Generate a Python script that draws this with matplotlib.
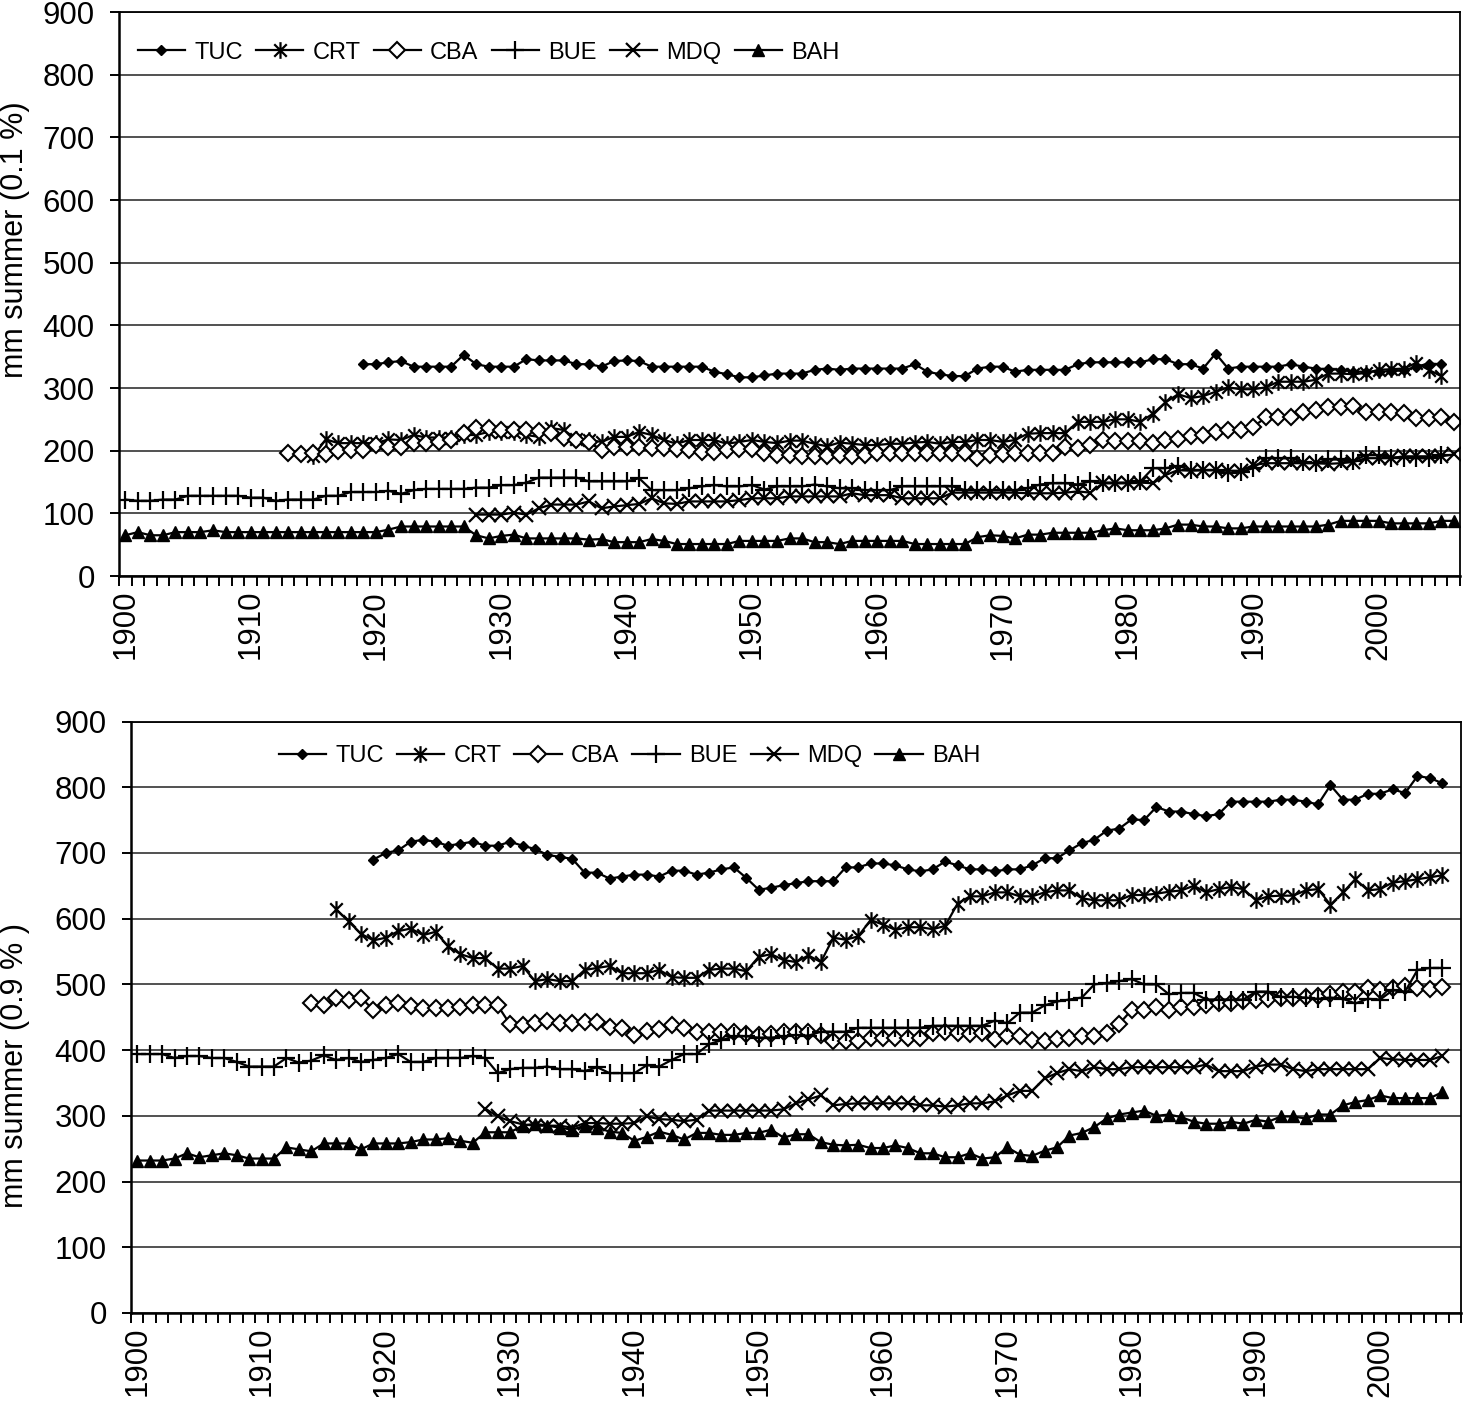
import numpy as np
import matplotlib
matplotlib.use("Agg")
import matplotlib.pyplot as plt
from matplotlib.path import Path

plt.rcParams['font.family'] = ['Liberation Sans', 'DejaVu Sans']

years = np.arange(1900, 2007)
names = ['TUC', 'CRT', 'CBA', 'BUE', 'MDQ', 'BAH']

# ---- top panel: mm summer (0.1 %) -- (first year, yearly values)
tuc_01 = (1919, [338, 338,
                 341, 343, 334, 334, 334, 334, 353, 338, 334, 334,
                 334, 346, 344, 344, 344, 338, 338, 334, 343, 344,
                 343, 334, 334, 334, 334, 334, 326, 322, 317, 317,
                 320, 323, 323, 323, 329, 331, 329, 331, 331, 331,
                 331, 331, 338, 326, 322, 319, 319, 331, 334, 334,
                 326, 329, 329, 329, 329, 338, 341, 341, 341, 341,
                 341, 346, 346, 338, 338, 331, 355, 331, 334, 334,
                 334, 334, 338, 334, 331, 330, 329, 326, 326, 326,
                 327, 328, 334, 339, 338])
crt_01 = (1915, [191,
                 218, 212, 212, 212, 212,
                 218, 217, 225, 221, 221, 221, 225, 225, 230, 230,
                 230, 225, 222, 236, 233, 218, 217, 214, 222, 222,
                 230, 225, 217, 211, 217, 217, 217, 211, 214, 217,
                 214, 212, 216, 216, 211, 207, 213, 211, 209, 209,
                 211, 211, 213, 214, 211, 214, 214, 217, 217, 214,
                 217, 227, 228, 228, 228, 246, 246, 246, 250, 250,
                 246, 259, 277, 290, 284, 287, 294, 301, 298, 298,
                 301, 310, 310, 310, 313, 323, 323, 322, 324, 329,
                 330, 331, 340, 329, 319])
cba_01 = (1913, [197, 195, 197, 195, 199, 201, 201, 209,
                 206, 206, 212, 213, 214, 217, 228, 236, 236, 233,
                 233, 233, 231, 228, 220, 217, 214, 201, 206, 206,
                 206, 205, 204, 203, 201, 198, 198, 201, 202, 203,
                 196, 193, 193, 191, 191, 191, 193, 191, 193, 196,
                 196, 196, 196, 196, 196, 196, 196, 189, 193, 195,
                 196, 196, 196, 197, 206, 204, 209, 217, 216, 216,
                 216, 212, 217, 218, 223, 225, 229, 233, 233, 238,
                 253, 253, 253, 261, 265, 269, 270, 272, 261, 261,
                 261, 260, 252, 252, 253, 246])
bue_01 = (1900, [122, 120, 120, 122, 122, 128, 128, 128, 128, 128, 125,
                 125, 120, 122, 122, 122, 128, 128, 134, 134, 134,
                 136, 131, 137, 139, 139, 139, 139, 141, 141, 145,
                 145, 149, 157, 157, 157, 157, 151, 151, 151, 151,
                 156, 137, 137, 137, 140, 143, 145, 143, 143, 145,
                 138, 143, 143, 143, 146, 143, 140, 140, 137, 137,
                 137, 143, 143, 143, 143, 143, 137, 137, 137, 137,
                 137, 140, 146, 148, 148, 146, 151, 149, 149, 149,
                 151, 172, 172, 176, 169, 169, 169, 164, 166, 172,
                 188, 188, 188, 182, 180, 186, 186, 184, 193, 193,
                 189, 189, 188, 188, 193])
mdq_01 = (1928, [98, 98, 98,
                 101, 98, 108, 114, 114, 114, 119, 108, 111, 113,
                 115, 124, 116, 115, 119, 119, 119, 119, 121, 124,
                 124, 124, 127, 127, 127, 127, 127, 132, 129, 129,
                 129, 124, 124, 124, 124, 133, 133, 133, 133, 133,
                 133, 132, 132, 132, 133, 135, 133, 148, 148, 148,
                 149, 148, 161, 169, 168, 169, 169, 168, 168, 177,
                 180, 180, 180, 180, 180, 179, 180, 182, 188, 188,
                 188, 191, 191, 191, 191, 194])
bah_01 = (1900, [65, 70, 65, 65, 70, 70, 70, 73, 70, 70, 70,
                 70, 70, 70, 70, 70, 70, 70, 70, 70, 70,
                 74, 79, 79, 79, 79, 79, 79, 65, 60, 64,
                 66, 60, 60, 60, 60, 60, 58, 59, 54, 54,
                 54, 59, 56, 51, 51, 51, 51, 51, 56, 56,
                 56, 56, 60, 60, 54, 54, 51, 56, 56, 56,
                 56, 56, 51, 51, 51, 51, 51, 62, 65, 64,
                 60, 66, 66, 69, 69, 69, 69, 73, 76, 73,
                 73, 73, 76, 82, 82, 79, 79, 76, 76, 79,
                 79, 79, 79, 79, 79, 82, 88, 88, 88, 88,
                 84, 84, 84, 84, 88, 88])

# ---- bottom panel: mm summer (0.9 %)
tuc_09 = (1919, [690, 700,
                 704, 717, 720, 717, 711, 714, 717, 711, 711, 717,
                 711, 706, 697, 694, 691, 670, 670, 661, 664, 667,
                 667, 664, 673, 673, 667, 670, 675, 678, 662, 644,
                 647, 651, 654, 657, 657, 657, 678, 678, 684, 684,
                 681, 675, 672, 675, 687, 681, 675, 675, 672, 675,
                 675, 681, 692, 692, 704, 715, 720, 734, 737, 751,
                 750, 770, 763, 763, 759, 756, 759, 778, 778, 778,
                 778, 781, 781, 778, 774, 803, 781, 781, 790, 790,
                 797, 791, 817, 814, 806])
crt_09 = (1916, [614, 596, 577, 567, 571,
                 581, 585, 575, 580, 558, 546, 540, 540, 524, 524,
                 528, 505, 508, 505, 505, 522, 525, 528, 517, 517,
                 517, 522, 511, 510, 510, 522, 524, 524, 520, 542,
                 546, 537, 534, 544, 534, 571, 568, 573, 598, 591,
                 583, 587, 587, 584, 589, 623, 634, 634, 640, 640,
                 634, 634, 640, 643, 643, 631, 628, 628, 628, 636,
                 636, 638, 641, 643, 650, 640, 645, 648, 645, 628,
                 634, 635, 635, 643, 645, 621, 640, 660, 643, 645,
                 655, 657, 660, 663, 666])
cba_09 = (1914, [471, 468, 480, 477, 480, 461, 469,
                 471, 467, 464, 464, 464, 465, 468, 468, 468, 439,
                 438, 442, 444, 442, 441, 443, 443, 435, 434, 423,
                 429, 432, 438, 434, 427, 428, 428, 427, 424, 423,
                 424, 428, 428, 428, 423, 414, 414, 414, 419, 419,
                 419, 419, 419, 426, 428, 426, 425, 426, 417, 422,
                 422, 415, 414, 417, 419, 422, 422, 426, 440, 461,
                 461, 465, 461, 465, 465, 468, 471, 471, 474, 477,
                 478, 480, 480, 481, 482, 485, 488, 489, 494, 491,
                 494, 497, 495, 493, 496])
bue_09 = (1900, [394, 394, 394, 388, 391, 391, 388, 388, 382, 375, 375,
                 375, 388, 381, 384, 392, 385, 388, 382, 385, 388,
                 394, 382, 382, 388, 388, 388, 391, 388, 365, 371,
                 373, 373, 375, 371, 371, 368, 374, 365, 365, 365,
                 377, 375, 385, 394, 394, 409, 415, 421, 421, 419,
                 419, 421, 423, 422, 428, 428, 428, 434, 434, 434,
                 434, 434, 434, 437, 437, 437, 437, 437, 445, 441,
                 457, 457, 468, 474, 477, 480, 500, 502, 505, 508,
                 500, 500, 485, 487, 487, 477, 477, 477, 477, 489,
                 489, 481, 481, 480, 478, 480, 478, 471, 478, 477,
                 491, 489, 522, 525, 525])
mdq_09 = (1928, [311, 299, 292,
                 287, 285, 285, 285, 282, 289, 289, 288, 288, 289,
                 299, 295, 294, 292, 294, 308, 308, 308, 308, 308,
                 308, 310, 319, 325, 331, 316, 318, 319, 319, 319,
                 319, 319, 316, 316, 314, 316, 319, 319, 322, 331,
                 338, 338, 357, 365, 371, 368, 374, 371, 371, 374,
                 374, 374, 374, 374, 374, 378, 368, 368, 368, 375,
                 378, 378, 371, 368, 371, 371, 371, 371, 371, 388,
                 386, 385, 385, 385, 391])
bah_09 = (1900, [232, 232, 232, 235, 243, 237, 240, 243, 240, 235, 235,
                 235, 252, 249, 246, 258, 258, 258, 249, 258, 258,
                 258, 260, 264, 264, 266, 262, 259, 275, 275, 275,
                 285, 288, 285, 282, 279, 285, 282, 276, 274, 262,
                 268, 276, 271, 264, 274, 274, 271, 271, 274, 274,
                 279, 267, 272, 272, 260, 256, 255, 256, 251, 251,
                 255, 251, 243, 243, 237, 237, 243, 235, 237, 252,
                 241, 239, 247, 252, 270, 274, 283, 296, 302, 305,
                 308, 300, 302, 298, 291, 288, 288, 291, 288, 294,
                 291, 299, 299, 296, 302, 302, 316, 321, 324, 331,
                 327, 327, 327, 327, 336])

top_series = [tuc_01, crt_01, cba_01, bue_01, mdq_01, bah_01]
bottom_series = [tuc_09, crt_09, cba_09, bue_09, mdq_09, bah_09]


def full_row(start, vals):
    y = np.full(len(years), np.nan)
    i = start - 1900
    y[i:i + len(vals)] = vals
    return y


# asterisk marker like the Excel one: vertical bar plus an x
star = Path([(0, -1), (0, 1), (-0.75, -0.75), (0.75, 0.75), (-0.75, 0.75), (0.75, -0.75)],
            [Path.MOVETO, Path.LINETO, Path.MOVETO, Path.LINETO, Path.MOVETO, Path.LINETO])

styles = [
    dict(marker='D', ms=5.5, mfc='black', mec='black', mew=1),
    dict(marker=star, ms=12, mfc='none', mec='black', mew=1.6),
    dict(marker='D', ms=8, mfc='white', mec='black', mew=1.5),
    dict(marker='+', ms=13, mec='black', mew=1.6),
    dict(marker='x', ms=10, mec='black', mew=1.6),
    dict(marker='^', ms=8, mfc='black', mec='black', mew=1),
]

W, H = 1463, 1402
fig = plt.figure(figsize=(W / 100, H / 100), dpi=100)

ax1 = fig.add_axes([119 / W, 1 - 576 / H, (1460 - 119) / W, (576 - 12) / H])
ax2 = fig.add_axes([131 / W, 1 - 1313 / H, (1461 - 131) / W, (1313 - 721.5) / H])


def setup(ax):
    ax.set_xlim(1899.5, 2006.5)
    ax.set_ylim(0, 900)
    ax.set_yticks(np.arange(0, 901, 100))
    ax.yaxis.grid(True, color='#222222', lw=1.1)
    ax.set_axisbelow(True)
    ax.set_xticks(np.arange(1899.5, 2007, 1))
    ax.set_xticklabels([])
    ax.set_xticks(np.arange(1900, 2001, 10), minor=True)
    ax.set_xticklabels([str(y) for y in range(1900, 2001, 10)], minor=True, rotation=90)
    ax.tick_params(axis='x', which='major', direction='out', length=7.5, width=1.4)
    ax.tick_params(axis='x', which='minor', length=0, pad=10, labelsize=22.5)
    ax.tick_params(axis='y', direction='out', length=6.5, width=1.4, pad=11, labelsize=22.5)
    for s in ax.spines.values():
        s.set_linewidth(1.3)
        s.set_color('black')
    ax.spines['left'].set_linewidth(1.8)
    ax.spines['bottom'].set_linewidth(1.8)


for ax, data in [(ax1, top_series), (ax2, bottom_series)]:
    setup(ax)
    handles = []
    for (start, vals), st in zip(data, styles):
        h, = ax.plot(years, full_row(start, vals), color='black', lw=1.6, **st)
        handles.append(h)
    if ax is ax1:
        anchor = (0.014, 0.928)
    else:
        anchor = (0.111, 0.942)
    ax.legend(handles, names, ncol=6, loc='center left', bbox_to_anchor=anchor,
              frameon=False, borderpad=0, borderaxespad=0, handlelength=2.0,
              handletextpad=0.4, columnspacing=0.55, fontsize=17)

fig.text(15 / W, 1 - 240 / H, 'mm summer (0.1 %)', rotation=90, ha='center', va='center', fontsize=22)
fig.text(15 / W, 1 - 1065 / H, 'mm summer (0.9 % )', rotation=90, ha='center', va='center', fontsize=22)

fig.savefig('out.png', dpi=100)
